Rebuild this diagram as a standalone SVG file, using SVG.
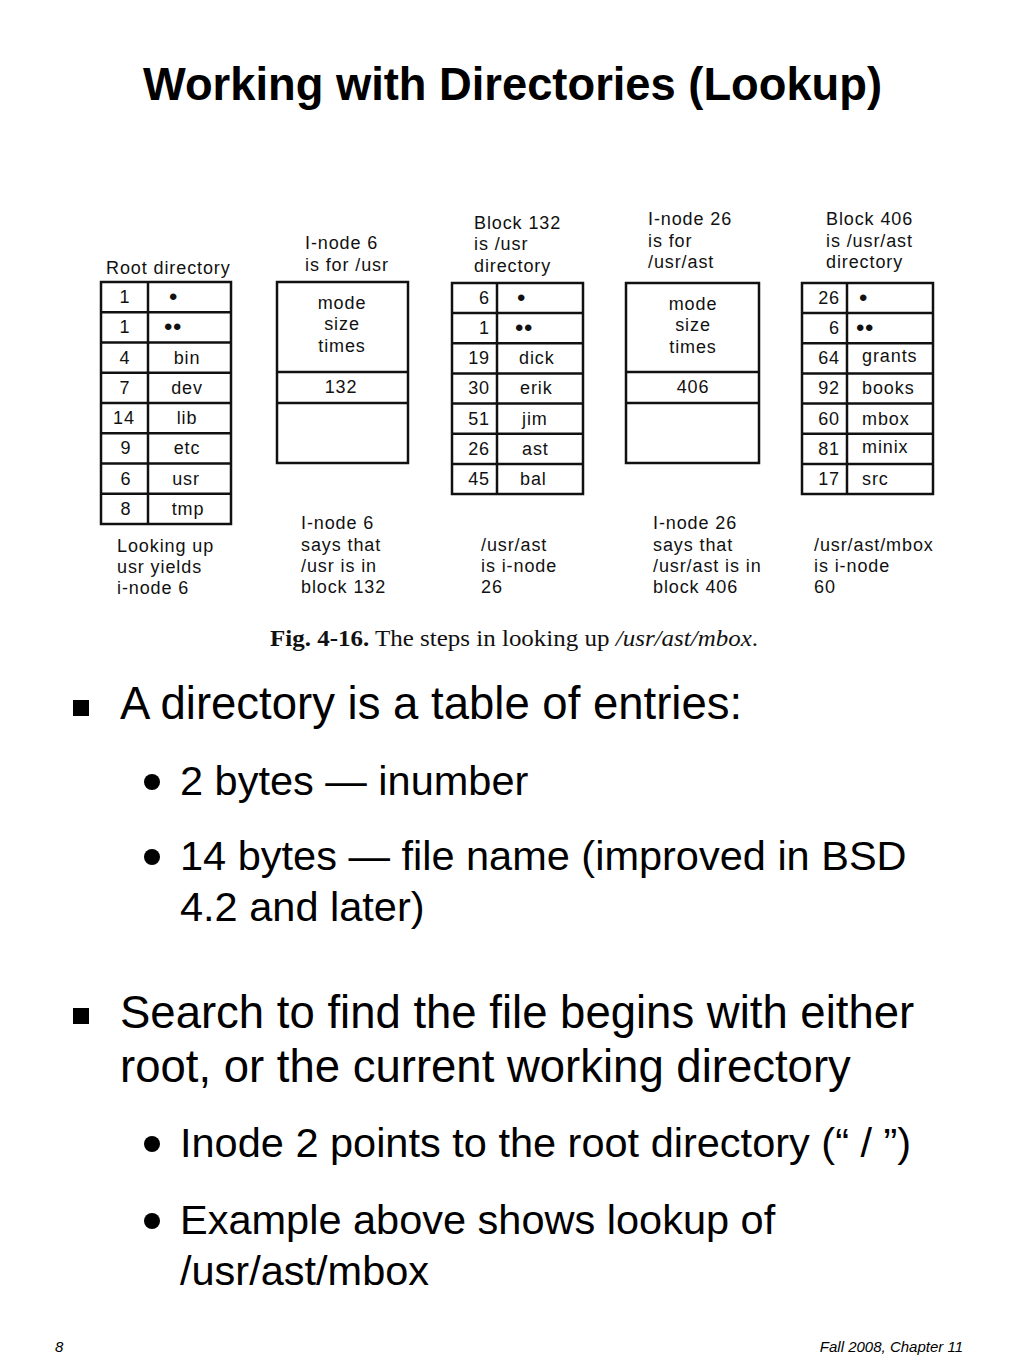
<svg xmlns="http://www.w3.org/2000/svg" width="1024" height="1365" viewBox="0 0 1024 1365">
<style>
  .bg{fill:#ffffff}
  .box{fill:none;stroke:#111;stroke-width:2.5}
  .ln{stroke:#111;stroke-width:2.5}
  .ft{font-family:"Liberation Sans",Arial,sans-serif;font-size:18px;letter-spacing:0.9px;fill:#111}
  .dot{font-family:"Liberation Sans",Arial,sans-serif;font-size:24px;letter-spacing:0.5px;fill:#111}
  .c{text-anchor:middle}
  .e{text-anchor:end}
  .title{font-family:"Liberation Sans",Arial,sans-serif;font-size:47px;font-weight:bold;fill:#000}
  .l1{font-family:"Liberation Sans",Arial,sans-serif;font-size:45.5px;fill:#000}
  .l2{font-family:"Liberation Sans",Arial,sans-serif;font-size:41.5px;fill:#000}
  .foot{font-family:"Liberation Sans",Arial,sans-serif;font-size:15px;font-style:italic;fill:#000}
  .cap{font-family:"Liberation Serif","Times New Roman",serif;font-size:23px;fill:#111}
</style>
<rect class="bg" x="0" y="0" width="1024" height="1365"/>

<g id="title">
  <text class="title" x="143" y="100" textLength="739" lengthAdjust="spacingAndGlyphs">Working with Directories (Lookup)</text>
</g>

<g id="root-directory">
  <text class="ft" x="106" y="274">Root directory</text>
  <rect class="box" x="101" y="282" width="130" height="242"/>
  <line class="ln" x1="101" y1="312.25" x2="231" y2="312.25"/>
  <line class="ln" x1="101" y1="342.5" x2="231" y2="342.5"/>
  <line class="ln" x1="101" y1="372.75" x2="231" y2="372.75"/>
  <line class="ln" x1="101" y1="403" x2="231" y2="403"/>
  <line class="ln" x1="101" y1="433.25" x2="231" y2="433.25"/>
  <line class="ln" x1="101" y1="463.5" x2="231" y2="463.5"/>
  <line class="ln" x1="101" y1="493.75" x2="231" y2="493.75"/>
  <line class="ln" x1="148" y1="282" x2="148" y2="524"/>
  <text class="ft c" x="125" y="303">1</text>
  <text class="ft c" x="125" y="333.25">1</text>
  <text class="ft c" x="125" y="363.5">4</text>
  <text class="ft c" x="125" y="393.75">7</text>
  <text class="ft c" x="124" y="424">14</text>
  <text class="ft c" x="126" y="454.25">9</text>
  <text class="ft c" x="126" y="484.5">6</text>
  <text class="ft c" x="126" y="514.75">8</text>
  <text class="dot" x="169" y="305">•</text>
  <text class="dot" x="164" y="335">••</text>
  <text class="ft c" x="187" y="363.5">bin</text>
  <text class="ft c" x="187" y="393.75">dev</text>
  <text class="ft c" x="187" y="424">lib</text>
  <text class="ft c" x="187" y="454.25">etc</text>
  <text class="ft c" x="186" y="484.5">usr</text>
  <text class="ft c" x="188" y="514.75">tmp</text>
  <text class="ft" x="117" y="552">Looking up</text>
  <text class="ft" x="117" y="573">usr yields</text>
  <text class="ft" x="117" y="594">i-node 6</text>
</g>

<g id="inode-6">
  <text class="ft" x="305" y="249">I-node 6</text>
  <text class="ft" x="305" y="271">is for /usr</text>
  <rect class="box" x="277" y="282" width="131" height="181"/>
  <line class="ln" x1="277" y1="372" x2="408" y2="372"/>
  <line class="ln" x1="277" y1="403" x2="408" y2="403"/>
  <text class="ft c" x="342" y="309">mode</text>
  <text class="ft c" x="342" y="330">size</text>
  <text class="ft c" x="342" y="352">times</text>
  <text class="ft c" x="341" y="393">132</text>
  <text class="ft" x="301" y="529">I-node 6</text>
  <text class="ft" x="301" y="551">says that</text>
  <text class="ft" x="301" y="572">/usr is in</text>
  <text class="ft" x="301" y="593">block 132</text>
</g>

<g id="block-132">
  <text class="ft" x="474" y="229">Block 132</text>
  <text class="ft" x="474" y="250">is /usr</text>
  <text class="ft" x="474" y="272">directory</text>
  <rect class="box" x="452" y="283" width="131" height="211"/>
  <line class="ln" x1="452" y1="313.1" x2="583" y2="313.1"/>
  <line class="ln" x1="452" y1="343.3" x2="583" y2="343.3"/>
  <line class="ln" x1="452" y1="373.4" x2="583" y2="373.4"/>
  <line class="ln" x1="452" y1="403.6" x2="583" y2="403.6"/>
  <line class="ln" x1="452" y1="433.7" x2="583" y2="433.7"/>
  <line class="ln" x1="452" y1="463.9" x2="583" y2="463.9"/>
  <line class="ln" x1="497" y1="283" x2="497" y2="494"/>
  <text class="ft e" x="490" y="304">6</text>
  <text class="ft e" x="490" y="334.1">1</text>
  <text class="ft e" x="490" y="364.3">19</text>
  <text class="ft e" x="490" y="394.4">30</text>
  <text class="ft e" x="490" y="424.6">51</text>
  <text class="ft e" x="490" y="454.7">26</text>
  <text class="ft e" x="490" y="484.9">45</text>
  <text class="dot" x="517" y="306">•</text>
  <text class="dot" x="515" y="336">••</text>
  <text class="ft" x="519" y="364.3">dick</text>
  <text class="ft" x="520" y="394.4">erik</text>
  <text class="ft" x="522" y="424.6">jim</text>
  <text class="ft" x="522" y="454.7">ast</text>
  <text class="ft" x="520" y="484.9">bal</text>
  <text class="ft" x="481" y="551">/usr/ast</text>
  <text class="ft" x="481" y="572">is i-node</text>
  <text class="ft" x="481" y="593">26</text>
</g>

<g id="inode-26">
  <text class="ft" x="648" y="225">I-node 26</text>
  <text class="ft" x="648" y="247">is for</text>
  <text class="ft" x="648" y="268">/usr/ast</text>
  <rect class="box" x="626" y="283" width="133" height="180"/>
  <line class="ln" x1="626" y1="372" x2="759" y2="372"/>
  <line class="ln" x1="626" y1="403" x2="759" y2="403"/>
  <text class="ft c" x="693" y="310">mode</text>
  <text class="ft c" x="693" y="331">size</text>
  <text class="ft c" x="693" y="353">times</text>
  <text class="ft c" x="693" y="393">406</text>
  <text class="ft" x="653" y="529">I-node 26</text>
  <text class="ft" x="653" y="551">says that</text>
  <text class="ft" x="653" y="572">/usr/ast is in</text>
  <text class="ft" x="653" y="593">block 406</text>
</g>

<g id="block-406">
  <text class="ft" x="826" y="225">Block 406</text>
  <text class="ft" x="826" y="247">is /usr/ast</text>
  <text class="ft" x="826" y="268">directory</text>
  <rect class="box" x="802" y="283" width="131" height="211"/>
  <line class="ln" x1="802" y1="313.1" x2="933" y2="313.1"/>
  <line class="ln" x1="802" y1="343.3" x2="933" y2="343.3"/>
  <line class="ln" x1="802" y1="373.4" x2="933" y2="373.4"/>
  <line class="ln" x1="802" y1="403.6" x2="933" y2="403.6"/>
  <line class="ln" x1="802" y1="433.7" x2="933" y2="433.7"/>
  <line class="ln" x1="802" y1="463.9" x2="933" y2="463.9"/>
  <line class="ln" x1="847" y1="283" x2="847" y2="494"/>
  <text class="ft e" x="840" y="304">26</text>
  <text class="ft e" x="840" y="334.1">6</text>
  <text class="ft e" x="840" y="364.3">64</text>
  <text class="ft e" x="840" y="394.4">92</text>
  <text class="ft e" x="840" y="424.6">60</text>
  <text class="ft e" x="840" y="454.7">81</text>
  <text class="ft e" x="840" y="484.9">17</text>
  <text class="dot" x="859" y="306">•</text>
  <text class="dot" x="856" y="336">••</text>
  <text class="ft" x="862" y="362">grants</text>
  <text class="ft" x="862" y="394.4">books</text>
  <text class="ft" x="862" y="424.6">mbox</text>
  <text class="ft" x="862" y="452.5">minix</text>
  <text class="ft" x="862" y="484.9">src</text>
  <text class="ft" x="814" y="551">/usr/ast/mbox</text>
  <text class="ft" x="814" y="572">is i-node</text>
  <text class="ft" x="814" y="593">60</text>
</g>

<g id="caption">
  <text class="cap" x="270" y="646" textLength="488" lengthAdjust="spacingAndGlyphs"><tspan font-weight="bold">Fig.  4-16.</tspan> The steps in looking up <tspan font-style="italic">/usr/ast/mbox</tspan>.</text>
</g>

<g id="bullets">
  <rect x="73" y="700" width="16" height="16" fill="#000"/>
  <text class="l1" x="120" y="719">A directory is a table of entries:</text>
  <circle cx="152" cy="782" r="8" fill="#000"/>
  <text class="l2" x="180" y="795">2 bytes — inumber</text>
  <circle cx="152" cy="857" r="8" fill="#000"/>
  <text class="l2" x="180" y="870">14 bytes — file name (improved in BSD</text>
  <text class="l2" x="180" y="921">4.2 and later)</text>
  <rect x="73" y="1008" width="16" height="16" fill="#000"/>
  <text class="l1" x="120" y="1028">Search to find the file begins with either</text>
  <text class="l1" x="120" y="1082">root, or the current working directory</text>
  <circle cx="152" cy="1144" r="8" fill="#000"/>
  <text class="l2" x="180" y="1157">Inode 2 points to the root directory (“ / ”)</text>
  <circle cx="152" cy="1221" r="8" fill="#000"/>
  <text class="l2" x="180" y="1234">Example above shows lookup of</text>
  <text class="l2" x="180" y="1285">/usr/ast/mbox</text>
</g>

<g id="footer">
  <text class="foot" x="55" y="1352">8</text>
  <text class="foot" x="963" y="1352" text-anchor="end">Fall 2008, Chapter 11</text>
</g>
</svg>
